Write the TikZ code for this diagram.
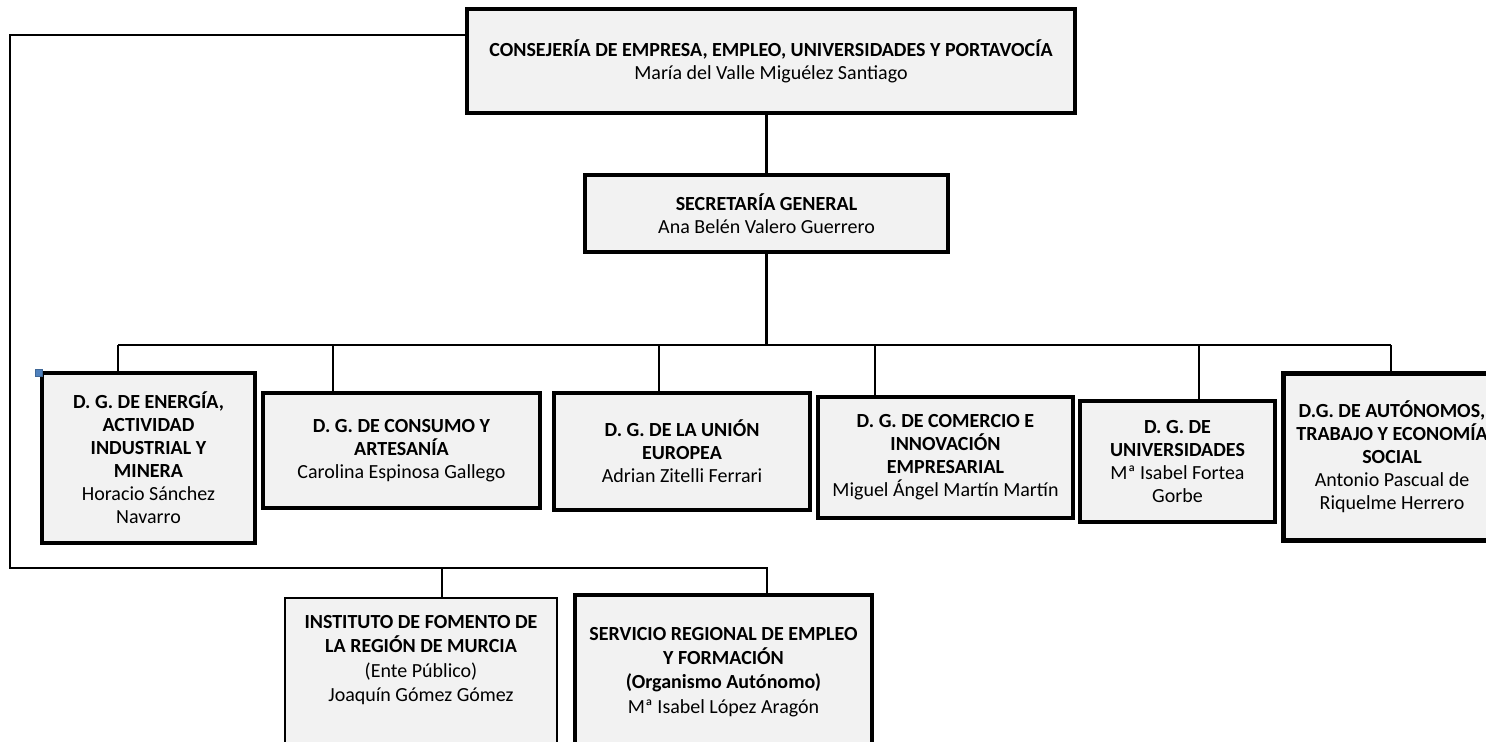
\documentclass[tikz,border=0pt]{standalone}
\usepackage{fontspec}
\setmainfont{Carlito}
\definecolor{boxfill}{HTML}{F2F2F2}
\definecolor{handle}{HTML}{4F81BD}
\begin{document}
\begin{tikzpicture}[x=0.5pt,y=-0.5pt,
  box/.style={draw=black, fill=boxfill, line width=1.7pt, align=center, inner sep=0pt,
    font=\fontsize{10}{11.5}\selectfont},
  txt/.style={align=center, inner sep=0pt, font=\fontsize{10}{12.1}\selectfont},
  conn/.style={draw=black, line width=1.2pt},
  thinconn/.style={draw=black, line width=0.7pt}]
\useasboundingbox (0,0) rectangle (1486,741);
\clip (0,0) rectangle (1486,741);
\fill[white] (0,0) rectangle (1486,741);

% boxes
\node[box, line width=1.9pt, minimum width=304pt, minimum height=52pt] (top) at (771,61)
  {\textbf{CONSEJERÍA DE EMPRESA, EMPLEO, UNIVERSIDADES Y PORTAVOCÍA}\\María del Valle Miguélez Santiago};
\node[box, minimum width=181.5pt, minimum height=38.5pt] (sg) at (766.5,213.5)
  {\textbf{SECRETARÍA GENERAL}\\Ana Belén Valero Guerrero};
\node[box, minimum width=106.5pt, minimum height=85pt] (dg1) at (148.5,458)
  {\textbf{D. G. DE ENERGÍA,}\\\textbf{ACTIVIDAD}\\\textbf{INDUSTRIAL Y}\\\textbf{MINERA}\\Horacio Sánchez\\Navarro};
\node[box, minimum width=138.5pt, minimum height=57.5pt] (dg2) at (401.5,450.5)
  {\textbf{D. G. DE CONSUMO Y}\\\textbf{ARTESANÍA}\\Carolina Espinosa Gallego};
\node[box, minimum width=128pt, minimum height=58.5pt] (dg3) at (682,451.5)
  {\textbf{D. G. DE LA UNIÓN}\\\textbf{EUROPEA}\\Adrian Zitelli Ferrari};
\node[box, minimum width=127.5pt, minimum height=60.5pt] (dg4) at (945.5,457.5)
  {\textbf{D. G. DE COMERCIO E}\\\textbf{INNOVACIÓN}\\\textbf{EMPRESARIAL}\\Miguel Ángel Martín Martín};
\node[box, minimum width=97.5pt, minimum height=60.5pt] (dg5) at (1177.5,461.5)
  {\textbf{D. G. DE}\\\textbf{UNIVERSIDADES}\\Mª Isabel Fortea\\Gorbe};
\node[box, line width=2.5pt, minimum width=109pt, minimum height=83.5pt] (dg6) at (1392,456.5)
  {\textbf{D.G. DE AUTÓNOMOS,}\\\textbf{TRABAJO Y ECONOMÍA}\\\textbf{SOCIAL}\\Antonio Pascual de\\Riquelme Herrero};
\node[box, line width=1.4pt, minimum width=136pt, minimum height=86pt] (ifrm) at (421,684) {};
\node[box, line width=1.8pt, minimum width=148.5pt, minimum height=87.5pt] (sref) at (723.5,682.5) {};
\node[txt] (ifrmtxt) at (421,660)
  {\textbf{INSTITUTO DE FOMENTO DE}\\\textbf{LA REGIÓN DE MURCIA}\\(Ente Público)\\Joaquín Gómez Gómez};
\node[txt] (sreftxt) at (723.5,672)
  {\textbf{SERVICIO REGIONAL DE EMPLEO}\\\textbf{Y FORMACIÓN}\\\textbf{(Organismo Autónomo)}\\Mª Isabel López Aragón};

% selection handle
\filldraw[fill=handle, draw=handle!80!black, line width=0.3pt] (35,369.5) rectangle (42,376.5);

% connectors
\coordinate (lc) at (10,35);
\coordinate (lb) at (10,568);
\coordinate (sd) at (767,568);
\coordinate (id) at (442,568);
\draw[conn] (top.west |- lc) -- (lc) -- (lb) -- (sd) -- (sd |- sref.north);
\draw[thinconn] (id) -- (id |- ifrm.north);

\draw[conn] (top.south -| sg.north) -- (sg.north);
\coordinate (busc) at (766.5,345);
\draw[conn] (sg.south) -- (busc);
\coordinate (b1) at (118,345);
\coordinate (b2) at (333,345);
\coordinate (b3) at (659,345);
\coordinate (b4) at (875,345);
\coordinate (b5) at (1199,345);
\coordinate (b6) at (1391,345);
\draw[conn] (b1) -- (b6);
\draw[conn] (b1) -- (b1 |- dg1.north);
\draw[conn] (b2) -- (b2 |- dg2.north);
\draw[conn] (b3) -- (b3 |- dg3.north);
\draw[conn] (b4) -- (b4 |- dg4.north);
\draw[conn] (b5) -- (b5 |- dg5.north);
\draw[conn] (b6) -- (b6 |- dg6.north);
\end{tikzpicture}
\end{document}
